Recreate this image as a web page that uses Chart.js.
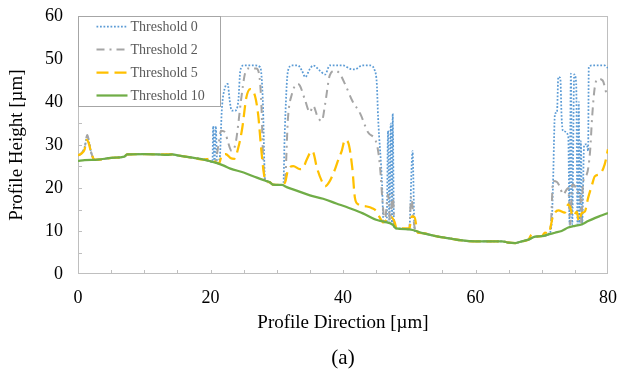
<!DOCTYPE html>
<html>
<head>
<meta charset="utf-8">
<script src="https://cdn.jsdelivr.net/npm/chart.js@4.4.1/dist/chart.umd.min.js"></script>
<style>
  html, body { margin: 0; padding: 0; background: #fff; }
  #wrap { width: 617px; height: 378px; }
</style>
</head>
<body>
<div id="wrap"><canvas id="chart" width="617" height="378"></canvas></div>
<script>
// profile points as [position µm, height µm]
const threshold10 = [
  [0,26.3],[1,26.5],[3,26.6],[5,27.0],[7,27.3],[7.4,27.8],[10,27.9],[12,27.8],[13.5,27.7],[14.2,27.8],
  [15,27.6],[17,27.1],[19,26.6],[20,26.2],[21,25.8],[22,25.2],[23,24.5],[25,23.6],[27,22.4],[28.3,21.7],
  [29,21.3],[29.4,20.8],[30.8,20.7],[31.5,20.2],[33,19.4],[35,18.3],[37,17.5],[39,16.4],[41,15.3],[43,14.1],
  [45,12.6],[46,12.2],[47.5,11.5],[48,10.6],[50,10.4],[52,9.5],[54,8.8],[56,8.3],[58,7.8],[60,7.6],
  [62,7.6],[64,7.6],[65,7.3],[66,7.2],[67,7.6],[68,8.0],[69,8.7],[70,8.8],[71,9.2],[72,9.6],
  [73,10.0],[74,10.8],[75,11.2],[76,11.5],[77,12.3],[78,13.0],[79,13.6],[80,14.2]
];

const threshold5 = [
  [0,27.6],[0.5,28.0],[1,29.0],[1.3,31.2],[1.6,30.5],[2,28.2],[2.5,26.6],[3,26.6],[5,27.0],[7,27.3],
  [7.4,27.8],[10,27.9],[12,27.8],[14.2,27.8],[15,27.6],[17,27.1],[19,26.6],[19.8,26.8],[20.5,26.2],[21.3,25.7],
  [21.7,27.6],[22.3,27.9],[23,27.0],[23.6,26.8],[24.2,29.4],[24.8,34.0],[25.4,41.0],[26,43.0],[26.7,41.5],[27.2,37.0],
  [27.6,30.0],[28,24.0],[28.3,21.7],[29,21.3],[29.4,20.8],[30.8,20.7],[31.3,21.5],[31.7,24.2],[32.5,25.1],[33.5,24.4],
  [34,24.7],[34.5,26.5],[35.3,28.6],[35.6,27.9],[36,25.1],[36.8,21.6],[37.3,20.4],[38,21.6],[38.8,24.4],[39.2,26.2],
  [39.8,28.6],[40.3,31.2],[40.8,30.5],[41.4,24.7],[41.8,17.7],[42.3,16.2],[43.6,15.7],[44.4,15.3],[45.1,14.5],[45.6,13.0],
  [46.1,12.0],[46.8,13.0],[47.3,13.2],[47.8,12.0],[48.1,10.6],[50,10.6],[50.4,13.4],[50.8,13.2],[51.3,9.6],[52,9.5],
  [54,8.8],[56,8.3],[58,7.8],[60,7.6],[62,7.6],[64,7.6],[65,7.3],[66,7.2],[67,7.6],[68,8.0],
  [68.5,9.2],[69,8.7],[70,8.8],[70.5,9.6],[71,9.4],[71.7,13.4],[72.5,14.8],[73.5,14.3],[74,16.2],[74.3,15.5],
  [74.7,13.4],[75.3,14.5],[75.6,12.2],[76,14.1],[76.5,14.5],[77,17.7],[77.6,20.8],[78,22.7],[78.8,23.3],[79.5,25.5],
  [80,29.0]
];

const threshold2 = [
  [0,27.6],[0.5,28.0],[1,29.5],[1.4,32.3],[1.7,30.5],[2,28.2],[2.5,26.6],[3,26.6],[5,27.0],[7,27.3],
  [7.4,27.8],[10,27.9],[12,27.8],[14.2,27.8],[15,27.6],[17,27.1],[19,26.6],[20,26.2],[20.7,26.0],[21.2,30.0],
  [21.6,33.3],[22.2,33.0],[22.6,30.9],[23.2,28.6],[23.8,30.5],[24.2,35.0],[24.6,40.3],[25.2,46.6],[25.7,47.8],[26.9,47.8],
  [27.4,45.8],[27.7,38.7],[27.9,28.6],[28.2,22.0],[28.3,21.7],[29,21.3],[29.4,20.8],[30.8,20.7],[31.2,20.8],[31.7,36.4],
  [32.3,41.9],[33.1,44.2],[33.5,43.8],[34.3,40.3],[35,37.6],[35.5,39.1],[36.2,36.4],[36.8,35.6],[37.3,39.5],[38,46.2],
  [38.8,47.3],[39.5,46.6],[40.3,44.2],[41.4,40.3],[42.6,37.3],[43.8,32.9],[45.1,30.2],[45.6,24.7],[46,16.2],[46.3,12.1],
  [46.8,18.5],[47.1,12.5],[47.5,18.5],[47.8,11.0],[48.1,10.6],[50,10.4],[50.3,18.0],[50.7,12.0],[51,9.8],[52,9.5],
  [54,8.8],[56,8.3],[58,7.8],[60,7.6],[62,7.6],[64,7.6],[65,7.3],[66,7.2],[67,7.6],[68,8.0],
  [69,8.7],[70,8.8],[71,9.2],[71.4,12.0],[71.7,21.6],[72.3,21.4],[72.8,20.0],[73.2,18.5],[74,20.0],[74.3,11.5],
  [74.6,20.8],[75,20.5],[75.3,19.0],[75.8,19.2],[76,11.5],[76.2,20.8],[76.8,23.2],[77.3,28.6],[77.6,36.4],[78,43.4],
  [78.5,45.4],[79.2,45.0],[79.8,41.9],[80,41.5]
];

const threshold0 = [
  [0,27.6],[0.5,28.0],[1,29.5],[1.4,32.0],[1.7,30.5],[2,28.2],[2.5,26.6],[3,26.6],[5,27.0],[7,27.3],
  [7.4,27.8],[10,27.9],[12,27.8],[14.2,27.8],[15,27.6],[17,27.1],[19,26.6],[20,26.2],[20.3,26.0],[20.4,34.4],
  [20.6,26.0],[20.8,34.4],[21,25.9],[21.4,27.0],[21.7,38.0],[22.2,43.4],[22.6,44.2],[22.9,40.3],[23.2,38.0],[23.7,38.0],
  [24.2,40.3],[24.5,47.3],[25,48.5],[26.7,48.5],[27.5,48.1],[27.9,40.3],[28.2,22.5],[28.3,21.7],[29,21.3],[29.4,20.8],
  [30.8,20.7],[31,20.8],[31.2,32.6],[31.7,47.3],[32.3,48.5],[33.2,48.5],[33.8,47.3],[34.3,45.8],[35,47.7],[35.5,48.5],
  [36.5,47.3],[37.3,46.4],[38,48.5],[40,48.5],[41.1,47.7],[41.8,47.6],[42.9,48.5],[44.1,48.5],[44.8,47.3],[45.1,44.3],
  [45.3,36.4],[45.9,20.8],[46.1,12.0],[46.6,12.0],[46.8,33.3],[47,12.0],[47.2,35.0],[47.4,11.5],[47.5,37.3],[47.7,11.0],
  [47.8,10.6],[48.1,10.6],[50,10.4],[50.5,28.6],[50.8,10.2],[51,9.8],[52,9.5],[54,8.8],[56,8.3],[58,7.8],
  [60,7.6],[62,7.6],[64,7.6],[65,7.3],[66,7.2],[67,7.6],[68,8.0],[69,8.7],[70,8.8],[71,9.2],
  [71.5,11.7],[71.7,20.8],[72,37.3],[72.3,37.6],[72.5,45.8],[72.8,45.6],[73,36.4],[73.2,33.3],[74,32.1],[74.2,11.5],
  [74.4,46.6],[74.6,11.5],[74.9,46.4],[75.2,44.3],[75.4,11.5],[75.6,40.0],[75.7,11.5],[75.9,30.9],[76.1,11.5],[76.4,30.0],
  [76.8,30.2],[77,28.6],[77.1,48.1],[77.6,48.5],[79.5,48.5],[79.8,48.1],[80,48.0]
];

const seriesNames = ['Threshold 0', 'Threshold 2', 'Threshold 5', 'Threshold 10'];
const xTicks = [0, 20, 40, 60, 80];
const yTicks = [0, 10, 20, 30, 40, 50, 60];

const serif = 'Liberation Serif, Times New Roman, serif';
const axisGray = '#bfbfbf';

function toPoints(arr) {
  return arr.map(p => ({x: p[0], y: p[1]}));
}

const styles = [
  {color: '#5b9bd5', width: 1.75, dash: [1.75, 1.75], order: 3},
  {color: '#a5a5a5', width: 2, dash: [8, 5, 2, 5], order: 2},
  {color: '#ffc000', width: 2.25, dash: [12, 6], order: 1},
  {color: '#70ad47', width: 2.25, dash: [], order: 0}
];

const allSeries = [threshold0, threshold2, threshold5, threshold10];

const datasets = allSeries.map((s, i) => ({
  label: seriesNames[i],
  data: toPoints(s),
  borderColor: styles[i].color,
  borderWidth: styles[i].width,
  borderDash: styles[i].dash,
  order: styles[i].order,
  pointRadius: 0,
  fill: false,
  cubicInterpolationMode: 'monotone'
}));

// box around the plot and small inward ticks every 5
const frame = {
  id: 'frame',
  beforeDatasetsDraw(chart) {
    const {ctx, chartArea: a, scales: {x, y}} = chart;
    ctx.save();
    ctx.strokeStyle = axisGray;
    ctx.lineWidth = 1;
    ctx.strokeRect(a.left + 0.5, a.top + 0.5, a.right - a.left - 1, a.bottom - a.top - 1);
    ctx.beginPath();
    for (let v = 5; v < 80; v += 5) {
      const px = Math.round(x.getPixelForValue(v)) + 0.5;
      ctx.moveTo(px, a.bottom);
      ctx.lineTo(px, a.bottom - 4);
    }
    for (let v = 5; v < 60; v += 5) {
      const py = Math.round(y.getPixelForValue(v)) + 0.5;
      ctx.moveTo(a.left, py);
      ctx.lineTo(a.left + 4, py);
    }
    ctx.stroke();
    ctx.restore();
  },
  afterDraw(chart) {
    const {ctx, chartArea: a} = chart;
    ctx.save();
    // legend box in the upper left corner
    const bx = a.left + 0.5, by = a.top + 0.5, bw = 142, bh = 90;
    ctx.fillStyle = '#fff';
    ctx.fillRect(bx, by, bw, bh);
    ctx.strokeStyle = '#a6a6a6';
    ctx.lineWidth = 1;
    ctx.strokeRect(bx, by, bw, bh);
    ctx.font = '14px ' + serif;
    ctx.textBaseline = 'middle';
    ctx.fillStyle = '#595959';
    chart.data.datasets.forEach((ds, i) => {
      const ry = by + 10 + i * 23;
      ctx.beginPath();
      ctx.strokeStyle = ds.borderColor;
      ctx.lineWidth = ds.borderWidth;
      ctx.setLineDash(ds.borderDash);
      ctx.moveTo(bx + 18, ry);
      ctx.lineTo(bx + 49, ry);
      ctx.stroke();
      ctx.setLineDash([]);
      ctx.fillText(ds.label, bx + 52, ry + 1);
    });
    // panel label
    ctx.fillStyle = '#000';
    ctx.font = '21px ' + serif;
    ctx.textAlign = 'center';
    ctx.fillText('(a)', (a.left + a.right) / 2, 358);
    ctx.restore();
  }
};

new Chart(document.getElementById('chart'), {
  type: 'line',
  data: {datasets: datasets},
  options: {
    responsive: false,
    animation: false,
    layout: {padding: {top: 16, right: 9, bottom: 42, left: 0}},
    plugins: {legend: {display: false}, tooltip: {enabled: false}},
    scales: {
      x: {
        type: 'linear',
        min: 0, max: 80,
        afterBuildTicks: s => { s.ticks = xTicks.map(v => ({value: v})); },
        afterFit: s => { s.height = 62; s.paddingLeft = 0; s.paddingRight = 0; },
        grid: {display: false, drawTicks: false},
        border: {display: false},
        ticks: {color: '#000', padding: 13, maxRotation: 0, font: {family: serif, size: 18}},
        title: {display: true, text: 'Profile Direction [µm]', color: '#000', padding: {top: 0, bottom: 2}, font: {family: serif, size: 19}}
      },
      y: {
        min: 0, max: 60,
        afterBuildTicks: s => { s.ticks = yTicks.map(v => ({value: v})); },
        afterFit: s => { s.width = 78; s.paddingTop = 0; s.paddingBottom = 0; },
        grid: {display: false, drawTicks: false},
        border: {display: false},
        ticks: {color: '#000', padding: 15, font: {family: serif, size: 18}},
        title: {display: true, text: 'Profile Height [µm]', color: '#000', padding: {top: 6, bottom: 0}, font: {family: serif, size: 19}}
      }
    }
  },
  plugins: [frame]
});
</script>
</body>
</html>
